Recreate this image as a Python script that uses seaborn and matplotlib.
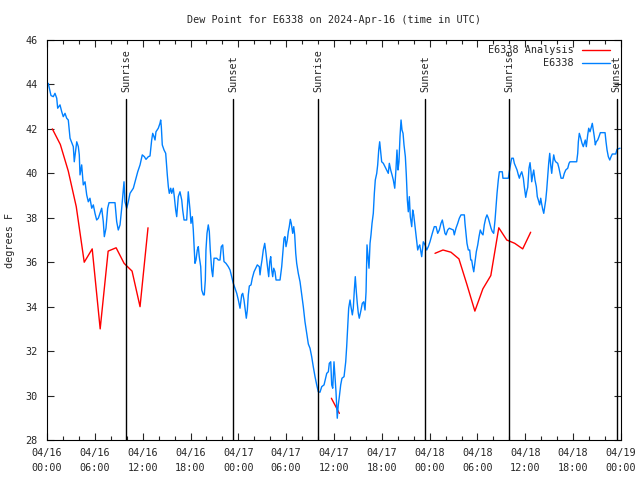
import pandas as pd
import matplotlib
matplotlib.use("Agg")
import matplotlib.pyplot as plt
import seaborn as sns

# E6338 observations (hours since 04/16 00:00 UTC, degrees F)
obs_hours = [0.16, 0.50, 0.79, 1.00, 1.22, 1.34, 1.63, 1.84, 2.04, 2.26, 2.47, 2.67, 2.89, 3.30, 3.42, 3.73,
             3.93, 4.05, 4.14, 4.35, 4.55, 4.77, 4.98, 5.18, 5.39, 5.61, 5.81, 6.02, 6.23, 6.44, 6.65, 6.86,
             7.06, 7.19, 7.40, 7.61, 7.78, 8.53, 8.74, 8.94, 9.16, 9.37, 9.66, 9.78, 10.00, 10.20, 10.41, 10.83,
             11.04, 11.38, 11.67, 11.95, 12.21, 12.42, 12.71, 12.92, 13.13, 13.26, 13.42, 13.55, 13.67, 13.96,
             14.17, 14.26, 14.34, 14.46, 14.68, 14.89, 15.09, 15.22, 15.34, 15.52, 15.64, 15.84, 15.97, 16.14,
             16.27, 16.47, 16.68, 16.90, 17.02, 17.19, 17.52, 17.72, 17.94, 18.06, 18.23, 18.35, 18.48, 18.56,
             18.69, 18.85, 18.98, 19.10, 19.28, 19.41, 19.61, 19.73, 19.86, 19.94, 20.07, 20.23, 20.36, 20.48,
             20.66, 20.79, 20.95, 21.29, 21.49, 21.70, 21.86, 22.04, 22.20, 22.45, 22.74, 22.96, 23.17, 23.37,
             23.58, 23.80, 24.00, 24.21, 24.42, 24.55, 24.71, 24.87, 25.00, 25.13, 25.25, 25.38, 25.59, 25.75,
             25.97, 26.18, 26.38, 26.63, 26.72, 26.84, 26.97, 27.13, 27.31, 27.47, 27.63, 27.81, 27.94, 28.06,
             28.19, 28.31, 28.44, 28.60, 28.73, 29.23, 29.44, 29.57, 29.73, 29.85, 29.98, 30.14, 30.27, 30.39,
             30.52, 30.64, 30.82, 30.95, 31.07, 31.20, 31.32, 31.52, 31.74, 31.95, 32.15, 32.36, 32.58, 32.78,
             32.99, 33.20, 33.40, 33.62, 33.83, 34.03, 34.24, 34.46, 34.75, 35.09, 35.29, 35.41, 35.59, 35.71,
             35.84, 36.00, 36.13, 36.25, 36.41, 36.54, 36.67, 36.84, 37.00, 37.26, 37.47, 37.59, 37.72, 37.84,
             38.01, 38.13, 38.30, 38.42, 38.55, 38.67, 38.80, 38.92, 39.05, 39.17, 39.39, 39.55, 39.73, 39.89,
             40.02, 40.14, 40.27, 40.39, 40.52, 40.64, 40.77, 40.93, 41.06, 41.18, 41.36, 41.48, 41.61, 41.73,
             41.86, 41.98, 42.19, 42.40, 42.61, 42.81, 42.94, 43.11, 43.28, 43.44, 43.62, 43.78, 43.90, 44.03,
             44.15, 44.28, 44.41, 44.53, 44.66, 44.78, 44.95, 45.07, 45.20, 45.32, 45.45, 45.57, 45.75, 45.87,
             46.00, 46.12, 46.25, 46.37, 46.50, 46.63, 46.75, 47.00, 47.20, 47.42, 47.63, 47.83, 48.04, 48.33,
             48.58, 48.80, 49.01, 49.21, 49.42, 49.59, 49.76, 49.92, 50.05, 50.26, 50.46, 50.97, 51.09, 51.30,
             51.52, 51.72, 51.93, 52.35, 52.43, 52.56, 52.68, 52.85, 53.02, 53.15, 53.27, 53.40, 53.53, 53.69,
             53.85, 54.03, 54.19, 54.35, 54.53, 54.69, 54.85, 55.03, 55.19, 55.36, 55.53, 55.70, 55.86, 56.03,
             56.20, 56.32, 56.45, 56.61, 56.74, 57.11, 57.19, 57.45, 57.87, 57.99, 58.20, 58.29, 58.49, 58.62,
             58.79, 58.96, 59.12, 59.25, 59.37, 59.55, 59.75, 59.87, 60.05, 60.17, 60.30, 60.46, 60.59, 60.71,
             60.80, 60.93, 61.05, 61.21, 61.38, 61.50, 61.63, 61.80, 61.93, 62.05, 62.18, 62.31, 62.43, 62.56,
             62.68, 62.81, 62.93, 63.06, 63.18, 63.31, 63.43, 63.56, 63.69, 63.81, 64.06, 64.22, 64.35, 64.48,
             64.73, 64.89, 65.07, 65.32, 65.48, 65.60, 66.44, 66.57, 66.65, 66.77, 66.95, 67.11, 67.27, 67.40,
             67.52, 67.65, 67.82, 67.95, 68.11, 68.24, 68.40, 68.53, 68.65, 68.78, 68.90, 69.08, 69.24, 69.41,
             70.00, 70.12, 70.25, 70.41, 70.59, 70.75, 70.91, 71.34, 71.50, 71.88]
obs_vals = [44.05, 43.50, 43.45, 43.60, 43.38, 42.93, 43.08, 42.78, 42.55, 42.70, 42.48, 42.40, 41.58, 41.20, 40.52, 41.42,
            41.20, 40.83, 39.93, 40.38, 39.48, 39.62, 39.03, 38.72, 38.88, 38.43, 38.58, 38.20, 37.90, 37.98, 38.20, 38.43,
            37.83, 37.15, 37.53, 38.43, 38.68, 38.68, 37.83, 37.45, 37.68, 38.43, 39.62, 38.72, 38.43, 38.72, 39.10, 39.33,
            39.62, 40.07, 40.38, 40.83, 40.75, 40.63, 40.75, 40.78, 41.50, 41.80, 41.65, 41.50, 41.87, 42.03,
            42.25, 42.40, 42.10, 41.28, 41.05, 40.90, 39.93, 39.40, 39.10, 39.33, 39.10, 39.33, 38.95, 38.35,
            38.05, 38.95, 39.17, 38.80, 38.35, 37.90, 37.90, 39.17, 38.35, 37.75, 38.05, 37.45, 36.55, 35.95,
            36.10, 36.55, 36.70, 36.25, 35.80, 34.75, 34.53, 34.53, 35.20, 36.55, 37.30, 37.68, 37.38, 36.55,
            35.65, 35.35, 36.18, 36.18, 36.10, 36.10, 36.70, 36.78, 36.03, 35.95, 35.80, 35.65, 35.35, 35.05,
            34.83, 34.60, 34.30, 33.93, 34.53, 34.60, 34.30, 33.85, 33.48, 33.85, 34.53, 34.93, 34.98, 35.28,
            35.57, 35.73, 35.88, 35.80, 35.43, 35.80, 36.10, 36.55, 36.85, 36.40, 35.88, 35.35, 36.02, 36.25,
            35.65, 35.35, 35.73, 35.57, 35.20, 35.20, 35.80, 36.40, 37.08, 37.15, 36.70, 37.00, 37.38, 37.60,
            37.93, 37.75, 37.30, 37.60, 37.23, 36.40, 35.95, 35.50, 35.12, 34.53, 34.00, 33.32, 32.80, 32.32,
            32.13, 31.75, 31.30, 30.85, 30.48, 30.17, 30.15, 30.40, 30.48, 31.00, 31.07, 31.45, 31.52, 30.48,
            30.33, 31.52, 30.85, 30.17, 28.98, 29.58, 29.95, 30.48, 30.78, 30.85, 31.52, 32.20, 33.10, 33.93,
            34.30, 34.00, 33.63, 33.93, 34.75, 35.35, 34.67, 34.15, 33.70, 33.48, 33.85, 34.15, 34.22, 33.85,
            34.67, 36.78, 36.25, 35.73, 36.85, 37.23, 37.75, 38.20, 39.10, 39.70, 40.00, 40.38, 41.05, 41.42,
            40.97, 40.52, 40.45, 40.30, 40.15, 40.00, 40.45, 40.15, 39.93, 39.70, 39.33, 40.23, 41.05, 40.15,
            40.52, 41.65, 42.40, 41.95, 41.80, 41.28, 40.75, 39.93, 38.80, 38.27, 38.95, 38.05, 37.60, 38.35,
            38.13, 37.75, 37.38, 36.92, 36.55, 36.70, 36.78, 36.25, 36.92, 36.78, 36.55, 36.70, 36.92, 37.30,
            37.60, 37.60, 37.30, 37.45, 37.75, 37.90, 37.60, 37.30, 37.23, 37.45, 37.53, 37.45, 37.23, 37.53,
            37.75, 37.98, 38.13, 38.13, 37.75, 37.30, 36.85, 36.55, 36.55, 36.10, 36.10, 35.80, 35.57, 36.02,
            36.47, 36.78, 37.15, 37.45, 37.30, 37.23, 37.68, 37.98, 38.13, 37.98, 37.75, 37.53, 37.38, 37.30,
            37.90, 38.50, 39.10, 39.70, 40.07, 40.07, 39.78, 39.78, 39.78, 40.07, 40.52, 40.68, 40.68, 40.45,
            40.30, 40.15, 39.93, 39.78, 39.93, 40.07, 39.78, 39.40, 38.92, 39.17, 39.37, 40.23, 40.48, 40.07,
            39.62, 39.93, 40.15, 39.70, 39.40, 38.95, 38.80, 38.58, 38.88, 38.62, 38.38, 38.20, 38.50, 38.80,
            39.25, 39.85, 40.45, 40.90, 40.38, 40.00, 40.45, 40.83, 40.60, 40.52, 40.45, 40.23, 40.00, 39.78,
            39.78, 40.00, 40.15, 40.23, 40.45, 40.52, 40.52, 40.90, 41.42, 41.80, 41.58, 41.35, 41.20, 41.35,
            41.50, 41.20, 41.72, 42.03, 41.87, 42.03, 42.25, 41.95, 41.65, 41.28, 41.42, 41.50, 41.65, 41.83,
            41.83, 41.42, 41.05, 40.75, 40.60, 40.75, 40.87, 40.87, 41.08, 41.13]

# E6338 Analysis (hourly, three separate pieces)
ana_hours = [0.67, 1.67, 2.67, 3.67, 4.67, 5.67, 6.67, 7.67, 8.67, 9.67, 10.67, 11.67, 12.67,
             35.67, 36.67,
             48.67, 49.67, 50.67, 51.67, 52.67, 53.67, 54.67, 55.67, 56.67, 57.67, 58.67, 59.67, 60.67]
ana_vals = [42.0, 41.3, 40.1, 38.5, 36.0, 36.6, 33.0, 36.5, 36.65, 35.95, 35.6, 34.0, 37.55,
            29.88, 29.2,
            36.4, 36.55, 36.45, 36.15, 35.0, 33.8, 34.8, 35.4, 37.55, 37.0, 36.85, 36.6, 37.35]
ana_piece = [1] * 13 + [2] * 2 + [3] * 13

sun_hours = [9.95, 23.37, 34.03, 47.45, 57.99, 71.46]
sun_labels = ["Sunrise", "Sunset", "Sunrise", "Sunset", "Sunrise", "Sunset"]

tick_hours = list(range(0, 73, 6))
tick_labels = ["04/16\n00:00", "04/16\n06:00", "04/16\n12:00", "04/16\n18:00",
               "04/17\n00:00", "04/17\n06:00", "04/17\n12:00", "04/17\n18:00",
               "04/18\n00:00", "04/18\n06:00", "04/18\n12:00", "04/18\n18:00",
               "04/19\n00:00"]

legend_labels = ["E6338 Analysis", "E6338"]
legend_colors = ["#ff0000", "#0080ff"]

FS = 7.3

sns.set_style("ticks")
plt.rcParams["font.family"] = ["DejaVu Sans Mono"]
plt.rcParams["font.size"] = FS

fig = plt.figure(figsize=(6.4, 4.8), dpi=100)
ax = fig.add_axes([47 / 640, 40 / 480, 574 / 640, 400 / 480])

obs = pd.DataFrame({"hour": obs_hours, "dewpt": obs_vals})
ana = pd.DataFrame({"hour": ana_hours, "dewpt": ana_vals, "piece": ana_piece})

sns.lineplot(data=ana, x="hour", y="dewpt", units="piece", estimator=None,
             color=legend_colors[0], linewidth=1, ax=ax)
sns.lineplot(data=obs, x="hour", y="dewpt", color=legend_colors[1], linewidth=1, ax=ax)

# sunrise / sunset markers
for h, lab in zip(sun_hours, sun_labels):
    ax.plot([h, h], [28, 43.35], color="black", linewidth=1)
    ax.text(h, 43.67, lab, rotation=90, ha="center", va="bottom", fontsize=FS)

ax.set_xlim(0, 72)
ax.set_ylim(28, 46)
ax.set_xticks(tick_hours)
ax.set_xticklabels(tick_labels)
for lab in ax.get_xticklabels():
    lab.set_linespacing(1.55)
ax.set_xticks(range(0, 73, 2), minor=True)
ax.set_yticks(range(28, 47, 2))
ax.tick_params(which="both", direction="in", top=True, right=True, labelsize=FS)
ax.tick_params(axis="x", pad=6)
ax.tick_params(axis="y", pad=7)
ax.tick_params(which="major", length=5, width=0.8)
ax.tick_params(which="minor", length=3, width=0.8)
for s in ax.spines.values():
    s.set_linewidth(0.8)
    s.set_color("black")

ax.set_xlabel("")
ax.set_ylabel("degrees F", fontsize=FS)
ax.yaxis.set_label_coords(-0.055, 0.5)
ax.set_title("Dew Point for E6338 on 2024-Apr-16 (time in UTC)", fontsize=FS, pad=12)

# gnuplot style key: right-aligned text, sample line to the right
for i, (lab, col) in enumerate(zip(legend_labels, legend_colors)):
    ky = 0.975 - i * 0.0325
    ax.text(0.918, ky, lab, transform=ax.transAxes, ha="right", va="center", fontsize=FS)
    ax.plot([0.932, 0.981], [ky, ky], transform=ax.transAxes, color=col, linewidth=1)

fig.savefig("out.png", dpi=100, facecolor="white")
